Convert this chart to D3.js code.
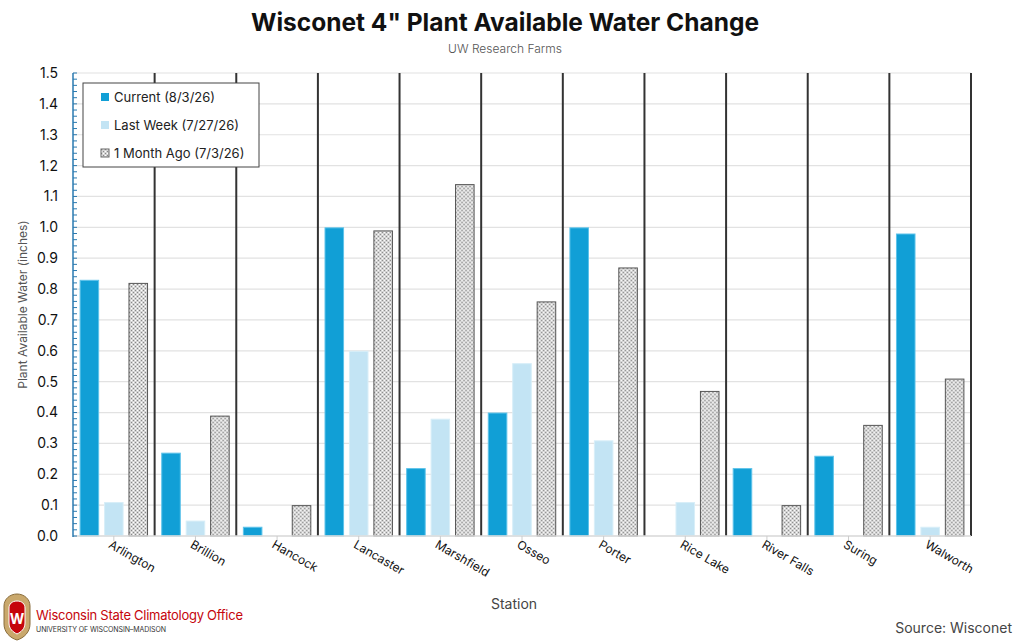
<!DOCTYPE html>
<html>
<head>
<meta charset="utf-8">
<script src="https://cdn.jsdelivr.net/npm/d3@7"></script>
<style>
  body { margin: 0; background: #fff; }
  svg { display: block; font-family: Inter, "Noto Sans", sans-serif; }
</style>
</head>
<body>
<svg id="chart" width="1024" height="642"></svg>
<script>
// stations and the three snapshots (inches)
const stations = ["Arlington", "Brillion", "Hancock", "Lancaster", "Marshfield", "Osseo",
                  "Porter", "Rice Lake", "River Falls", "Suring", "Walworth"];
const current   = [0.83, 0.27, 0.03, 1.00, 0.22, 0.40, 1.00, 0.00, 0.22, 0.26, 0.98];
const lastWeek  = [0.11, 0.05, 0.00, 0.60, 0.38, 0.56, 0.31, 0.11, 0.00, 0.00, 0.03];
const monthAgo  = [0.82, 0.39, 0.10, 0.99, 1.14, 0.76, 0.87, 0.47, 0.10, 0.36, 0.51];
const seriesNames = ["Current (8/3/26)", "Last Week (7/27/26)", "1 Month Ago (7/3/26)"];
const yTicks = [0, 0.1, 0.2, 0.3, 0.4, 0.5, 0.6, 0.7, 0.8, 0.9, 1.0, 1.1, 1.2, 1.3, 1.4, 1.5];

const svg = d3.select("#chart");
const pLeft = 73, pRight = 971, pTop = 73, pBottom = 536;

const defs = svg.append("defs");
const pat = defs.append("pattern")
    .attr("id", "hatch")
    .attr("width", 4).attr("height", 4)
    .attr("patternUnits", "userSpaceOnUse");
pat.append("rect").attr("width", 4).attr("height", 4).attr("fill", "#d4d4d4");
pat.append("rect").attr("x", 0).attr("y", 0).attr("width", 1).attr("height", 1).attr("fill", "#888");
pat.append("rect").attr("x", 2).attr("y", 2).attr("width", 1).attr("height", 1).attr("fill", "#888");
pat.append("rect").attr("x", 2).attr("y", 0).attr("width", 1).attr("height", 1).attr("fill", "#fff");
pat.append("rect").attr("x", 0).attr("y", 2).attr("width", 1).attr("height", 1).attr("fill", "#fff");

const series = [
    { name: seriesNames[0], values: current,  fill: "#119fd6", stroke: "#5ec3ea" },
    { name: seriesNames[1], values: lastWeek, fill: "#c3e4f4", stroke: "#d8eef8" },
    { name: seriesNames[2], values: monthAgo, fill: "url(#hatch)", stroke: "#555" }
];

const x = d3.scaleBand().domain(stations).range([pLeft, pRight]).padding(0);
const xs = d3.scaleBand().domain(d3.range(3)).range([0, x.bandwidth()])
    .paddingInner(0.2).paddingOuter(0.27);
const y = d3.scaleLinear().domain([0, 1.5]).range([pBottom, pTop]);

// grid lines
svg.append("g").selectAll("line").data(yTicks).join("line")
    .attr("x1", pLeft).attr("x2", pRight)
    .attr("y1", d => y(d)).attr("y2", d => y(d))
    .attr("stroke", "#e2e2e2").attr("stroke-width", 1.2);

// bars
const groups = svg.append("g").selectAll("g").data(stations).join("g")
    .attr("transform", d => `translate(${x(d)},0)`);
series.forEach((s, si) => {
    groups.append("rect")
        .attr("x", xs(si) + 0.5)
        .attr("width", xs.bandwidth() - 1)
        .attr("y", (d, i) => y(s.values[i]) + 0.5)
        .attr("height", (d, i) => Math.max(0, pBottom - y(s.values[i]) - 0.5))
        .attr("fill", s.fill)
        .attr("stroke", (d, i) => s.values[i] > 0 ? s.stroke : "none")
        .attr("stroke-width", 1);
});

// station separators
svg.append("g").selectAll("line").data(stations).join("line")
    .attr("x1", d => x(d) + x.bandwidth()).attr("x2", d => x(d) + x.bandwidth())
    .attr("y1", pTop).attr("y2", pBottom)
    .attr("stroke", "#333").attr("stroke-width", 2);

// x axis baseline + ticks
svg.append("line").attr("x1", pLeft).attr("x2", pRight).attr("y1", pBottom).attr("y2", pBottom)
    .attr("stroke", "#ddd").attr("stroke-width", 1.5);
svg.append("g").selectAll("line").data(stations).join("line")
    .attr("x1", d => x(d) + x.bandwidth() / 2).attr("x2", d => x(d) + x.bandwidth() / 2)
    .attr("y1", pBottom).attr("y2", pBottom + 5)
    .attr("stroke", "#ccc");
svg.append("g").selectAll("text").data(stations).join("text")
    .attr("transform", d => `translate(${x(d) + x.bandwidth() / 2 - 6},${pBottom + 11}) rotate(30)`)
    .attr("font-size", 12).attr("fill", "#111")
    .text(d => d);

// y axis with minor ticks
const yAxis = svg.append("g");
yAxis.append("line").attr("x1", pLeft).attr("x2", pLeft).attr("y1", pTop).attr("y2", pBottom + 1)
    .attr("stroke", "#2a7ab0").attr("stroke-width", 1.5);
yAxis.selectAll(".minor").data(d3.range(0, 76)).join("line")
    .attr("x1", pLeft).attr("x2", pLeft + 4)
    .attr("y1", d => y(d * 0.02)).attr("y2", d => y(d * 0.02))
    .attr("stroke", "#2a7ab0").attr("stroke-width", 1);
yAxis.selectAll("text").data(yTicks).join("text")
    .attr("x", 58).attr("y", d => y(d)).attr("dy", "0.35em")
    .attr("text-anchor", "end").attr("font-size", 14).attr("fill", "#111")
    .text(d => d3.format(".1f")(d));

// titles
svg.append("text").attr("x", 505).attr("y", 31).attr("text-anchor", "middle")
    .attr("font-size", 24.5).attr("font-weight", 700).attr("fill", "#111")
    .text('Wisconet 4" Plant Available Water Change');
svg.append("text").attr("x", 505).attr("y", 53).attr("text-anchor", "middle")
    .attr("font-size", 12).attr("fill", "#555").attr("font-weight", 300)
    .text("UW Research Farms");
svg.append("text").attr("transform", `translate(27,${(pTop + pBottom) / 2}) rotate(-90)`)
    .attr("text-anchor", "middle").attr("font-size", 12).attr("fill", "#555")
    .text("Plant Available Water (inches)");
svg.append("text").attr("x", 514).attr("y", 609).attr("text-anchor", "middle")
    .attr("font-size", 14).attr("fill", "#444")
    .text("Station");
svg.append("text").attr("x", 1012).attr("y", 633).attr("text-anchor", "end")
    .attr("font-size", 14).attr("fill", "#444")
    .text("Source: Wisconet");

// legend
const lg = svg.append("g").attr("transform", "translate(83,83)");
lg.append("rect").attr("width", 176).attr("height", 84)
    .attr("fill", "#fff").attr("stroke", "#444").attr("stroke-width", 1);
const li = lg.selectAll("g").data(series).join("g")
    .attr("transform", (d, i) => `translate(18,${10 + i * 28})`);
li.append("rect").attr("width", 8).attr("height", 8)
    .attr("fill", d => d.fill).attr("stroke", (d, i) => i === 2 ? "#666" : "none");
li.append("text").attr("x", 13).attr("y", 4).attr("dy", "0.35em")
    .attr("font-size", 13).attr("fill", "#222").text(d => d.name);

// logo
const logo = svg.append("g").attr("transform", "translate(4,594)");
logo.append("path")
    .attr("d", "M13,0 C20,0 26,5 26,12 L26,30 C26,38 20,44 13,46 C6,44 0,38 0,30 L0,12 C0,5 6,0 13,0 Z")
    .attr("fill", "#c9a86c").attr("stroke", "#8a6d3b");
logo.append("path")
    .attr("d", "M13,7 C18,7 21,10 21,14 L21,29 C21,35 17,38 13,40 C9,38 5,35 5,29 L5,14 C5,10 8,7 13,7 Z")
    .attr("fill", "#c5050c").attr("stroke", "#fff").attr("stroke-width", 1);
logo.append("text").attr("x", 13).attr("y", 30).attr("text-anchor", "middle")
    .attr("font-size", 14).attr("font-weight", 700).attr("fill", "#fff").text("W");
svg.append("text").attr("x", 36).attr("y", 620)
    .attr("font-size", 13).attr("fill", "#c5050c").attr("textLength", 207)
    .text("Wisconsin State Climatology Office");
svg.append("text").attr("x", 36).attr("y", 632)
    .attr("font-size", 7).attr("fill", "#333").attr("textLength", 130)
    .text("UNIVERSITY OF WISCONSIN–MADISON");
</script>
</body>
</html>
